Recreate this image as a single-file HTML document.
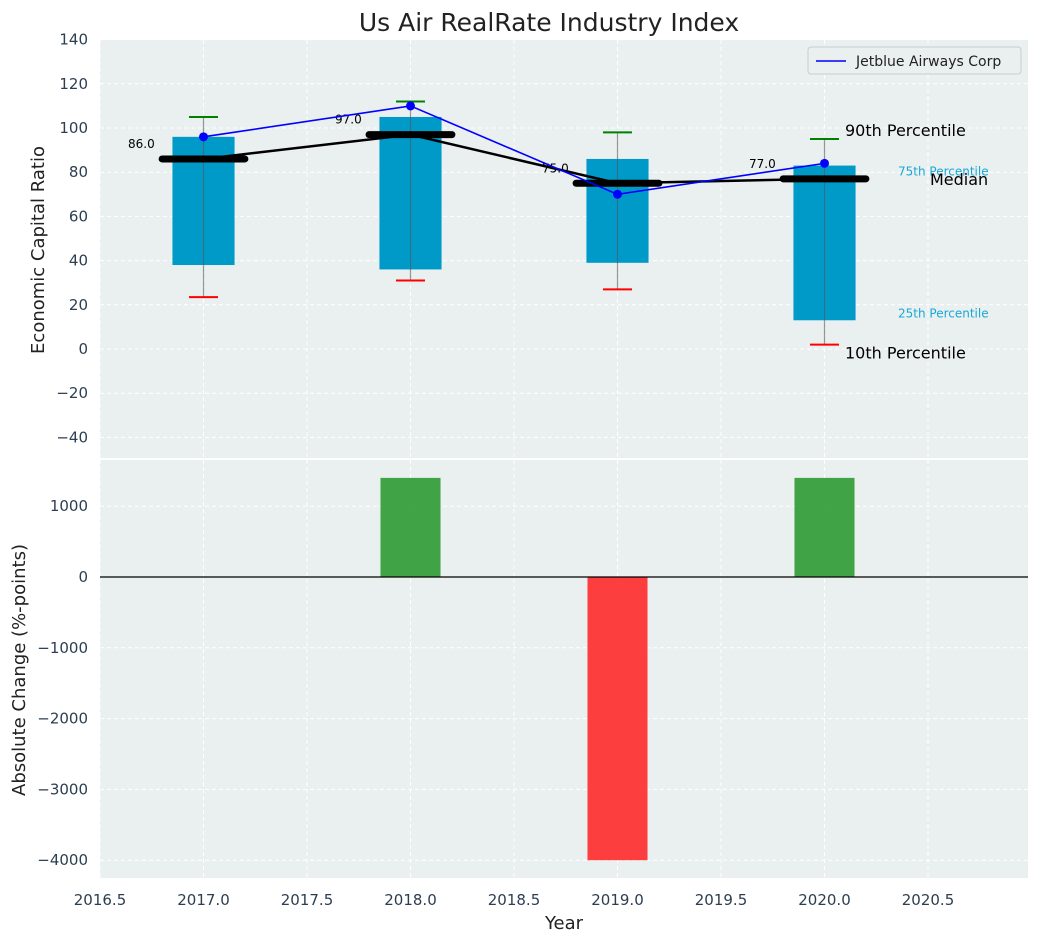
<!DOCTYPE html>
<html><head><meta charset="utf-8"><style>
body{margin:0;background:#fff;}
svg{display:block;font-family:"DejaVu Sans","Liberation Sans",sans-serif;}
</style></head><body>
<svg id="c" width="1039" height="942" xmlns="http://www.w3.org/2000/svg"></svg>
<script>
const years=[2017,2018,2019,2020];
const p25=[38,36,39,13];
const p75=[96,105,86,83];
const p10=[23.5,31,27,2];
const p90=[105,112,98,95];
const medians=[86,97,75,77];
const jetblue=[96,110,70,84];
const changeYears=[2018,2019,2020];
const changes=[1400,-4000,1400];
const xTicks=[2016.5,2017,2017.5,2018,2018.5,2019,2019.5,2020,2020.5];
const yTicksTop=[140,120,100,80,60,40,20,0,-20,-40];
const yTicksBot=[1000,0,-1000,-2000,-3000,-4000];

const L=100,R=1028;
const X=v=>L+(v-2016.5)*207;
const Y1=v=>349-v*2.21;
const Y2=v=>577-v*0.0708;
const svg=document.getElementById('c');
const NS='http://www.w3.org/2000/svg';
function mk(t,a,txt){const e=document.createElementNS(NS,t);for(const k in a)e.setAttribute(k,a[k]);if(txt!==undefined)e.textContent=txt;svg.appendChild(e);return e;}

let e=mk('rect',{x:L,y:40,width:R-L,height:418,fill:'#eaeff0'});

e=mk('rect',{x:L,y:460,width:R-L,height:418,fill:'#eaeff0'});


xTicks.forEach(t=>{
 mk('line',{x1:X(t),x2:X(t),y1:40,y2:458,stroke:'#fff','stroke-dasharray':'4,3','stroke-width':1});
 mk('line',{x1:X(t),x2:X(t),y1:460,y2:878,stroke:'#fff','stroke-dasharray':'4,3','stroke-width':1});
 e=mk('text',{x:X(t),y:905,'text-anchor':'middle','font-size':15,fill:'#2c3e50'},t.toFixed(1));
 
});
yTicksTop.forEach(t=>{
 mk('line',{x1:L,x2:R,y1:Y1(t),y2:Y1(t),stroke:'#fff','stroke-dasharray':'4,3'});
 e=mk('text',{x:88,y:Y1(t)+5,'text-anchor':'end','font-size':15,fill:'#2c3e50'},t<0?'\u2212'+(-t):t);
 
});
yTicksBot.forEach(t=>{
 mk('line',{x1:L,x2:R,y1:Y2(t),y2:Y2(t),stroke:'#fff','stroke-dasharray':'4,3'});
 e=mk('text',{x:88,y:Y2(t)+5,'text-anchor':'end','font-size':15,fill:'#2c3e50'},t<0?'\u2212'+(-t):t);
 
});

years.forEach((y,i)=>{
 e=mk('rect',{x:X(y-0.15),y:Y1(p75[i]),width:X(0.3)-X(0),height:Y1(p25[i])-Y1(p75[i]),fill:'#009ac9'});
 
 mk('line',{x1:X(y),x2:X(y),y1:Y1(p90[i]),y2:Y1(p10[i]),stroke:'#555','stroke-opacity':0.6,'stroke-width':1.2});
 e=mk('line',{x1:X(y-0.07),x2:X(y+0.07),y1:Y1(p90[i]),y2:Y1(p90[i]),stroke:'green','stroke-width':2});
 
 e=mk('line',{x1:X(y-0.07),x2:X(y+0.07),y1:Y1(p10[i]),y2:Y1(p10[i]),stroke:'red','stroke-width':2});
 
});
e=mk('polyline',{points:years.map((y,i)=>X(y)+','+Y1(medians[i])).join(' '),fill:'none',stroke:'#000','stroke-width':2.5});

years.forEach((y,i)=>{
 e=mk('line',{x1:X(y-0.2),x2:X(y+0.2),y1:Y1(medians[i]),y2:Y1(medians[i]),stroke:'#000','stroke-width':7,'stroke-linecap':'round'});
 
 e=mk('text',{x:X(y-0.3),y:Y1(medians[i])-11,'text-anchor':'middle','font-size':12,fill:'#000'},medians[i].toFixed(1));
 
});
e=mk('polyline',{points:years.map((y,i)=>X(y)+','+Y1(jetblue[i])).join(' '),fill:'none',stroke:'#0000ff','stroke-width':1.6});

years.forEach((y,i)=>{e=mk('circle',{cx:X(y),cy:Y1(jetblue[i]),r:4.5,fill:'#0000ff'});
 });
const li=years.length-1;
e=mk('text',{x:845,y:Y1(p90[li])-3,'font-size':16,fill:'#000'},'90th Percentile');
e=mk('text',{x:845,y:Y1(p10[li])+14,'font-size':16,fill:'#000'},'10th Percentile');
e=mk('text',{x:898,y:Y1(p75[li])+10,'font-size':12,fill:'#19a8d8'},'75th Percentile');
e=mk('text',{x:898,y:Y1(p25[li])-3,'font-size':12,fill:'#19a8d8'},'25th Percentile');
e=mk('text',{x:930,y:Y1(medians[li])+6,'font-size':16,fill:'#000'},'Median');

e=mk('rect',{x:808,y:47,width:213,height:27,rx:3,fill:'#eaeff0',stroke:'#ccc'});
mk('line',{x1:816,x2:846,y1:61,y2:61,stroke:'#0000ff','stroke-width':1.6});
e=mk('text',{x:856,y:66,'font-size':14,fill:'#222'},'Jetblue Airways Corp');

changeYears.forEach((y,i)=>{
 const v=changes[i];
 e=mk('rect',{x:X(y-0.145),y:Math.min(Y2(v),Y2(0)),width:X(0.29)-X(0),height:Math.abs(Y2(v)-Y2(0)),fill:v>=0?'#2e9a33':'#ff2a2a','fill-opacity':0.9});
 
});
mk('line',{x1:L,x2:R,y1:Y2(0),y2:Y2(0),stroke:'#000','stroke-width':1.2});

e=mk('text',{x:549,y:31,'text-anchor':'middle','font-size':25,fill:'#222'},'Us Air RealRate Industry Index');
e=mk('text',{x:564,y:929,'text-anchor':'middle','font-size':18,fill:'#222'},'Year');
e=mk('text',{x:0,y:0,'text-anchor':'middle','font-size':18,fill:'#222',transform:'translate(44,250) rotate(-90)'},'Economic Capital Ratio');
e=mk('text',{x:0,y:0,'text-anchor':'middle','font-size':18,fill:'#222',transform:'translate(25,670) rotate(-90)'},'Absolute Change (%-points)');
</script>
</body></html>
